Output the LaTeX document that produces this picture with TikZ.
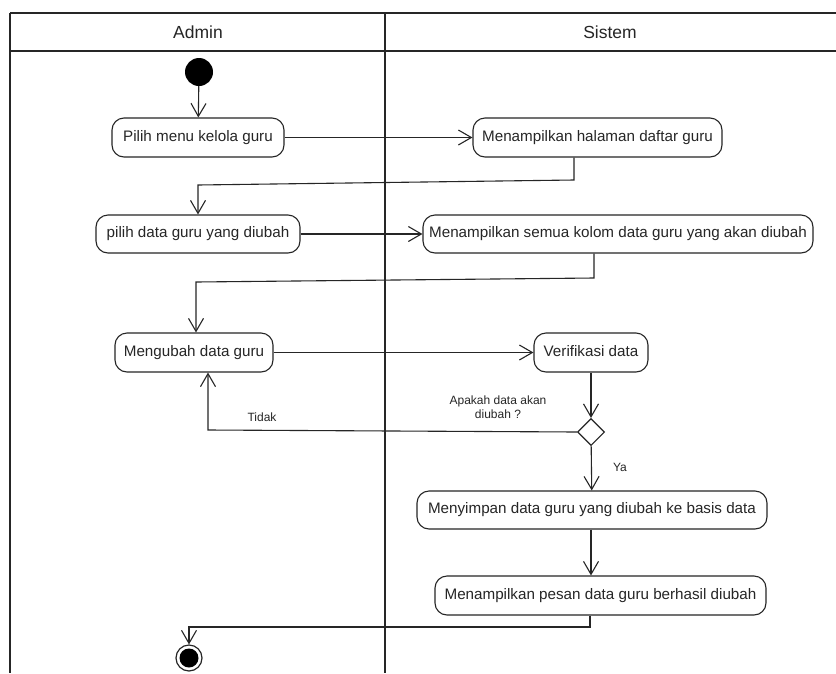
\documentclass[tikz,border=0pt]{standalone}
\usepackage{fontspec}
\setmainfont{Liberation Sans}
\usetikzlibrary{arrows.meta,shapes.geometric}
\definecolor{lncol}{HTML}{262626}
\tikzset{
  act/.style={draw=lncol, rounded corners=12pt, line width=1.1pt, minimum height=39pt,
    inner sep=0pt, font=\fontsize{15.2}{18}\selectfont, text height=11pt, text depth=3.5pt, text=black!85},
  flow/.style={draw=lncol, line width=1.1pt, -{Straight Barb[length=13pt,width=15pt,line width=1.1pt]}},
  lbl/.style={font=\fontsize{12}{14}\selectfont, text=black!85, inner sep=0pt, align=center},
  hdr/.style={font=\fontsize{17.5}{20}\selectfont, text=black!85, inner sep=0pt},
  startnode/.style={circle, fill=black, minimum size=28pt, inner sep=0pt},
  endnode/.style={circle, draw=lncol, line width=1.2pt, minimum size=26pt, inner sep=0pt},
  decision/.style={diamond, draw=lncol, line width=1.1pt, minimum width=27pt, minimum height=27pt, inner sep=0pt, aspect=1}
}
\begin{document}
\begin{tikzpicture}[x=1pt,y=-1pt]
\useasboundingbox (0,0) rectangle (836,673);
\fill[white] (0,0) rectangle (836,673);
% swimlane frame
\draw[draw=lncol, line width=2.2pt] (10,13) -- (836,13);
\draw[draw=lncol, line width=2.2pt] (10,51) -- (836,51);
\draw[draw=lncol, line width=1.4pt] (10,13) -- (10,673);
\draw[draw=lncol, line width=1.4pt] (385,13) -- (385,673);
\node[hdr] (hadmin) at (198,32) {Admin};
\node[hdr] (hsistem) at (610,32) {Sistem};

% nodes
\node[startnode] (start) at (199,72) {};
\node[act, minimum width=172pt] (n1) at (198,137.5) {Pilih menu kelola guru};
\node[act, minimum width=249pt] (n2) at (597.5,137.5) {Menampilkan halaman daftar guru};
\node[act, minimum width=204pt, minimum height=38pt] (n3) at (198,234) {pilih data guru yang diubah};
\node[act, minimum width=390pt, minimum height=38pt] (n4) at (618,234) {Menampilkan semua kolom data guru yang akan diubah};
\node[act, minimum width=158pt] (n5) at (194,352.5) {Mengubah data guru};
\node[act, minimum width=114pt] (n6) at (591,352.5) {Verifikasi data};
\node[decision] (d) at (591,432) {};
\node[act, minimum width=350pt, minimum height=38pt] (n7) at (592,510) {Menyimpan data guru yang diubah ke basis data};
\node[act, minimum width=331pt] (n8) at (600.5,595.5) {Menampilkan pesan data guru berhasil diubah};
\node[endnode] (end) at (189,658) {};
\fill[black] (end.center) circle (9.5pt);

% labels
\node[lbl] (q) at (498,407) {Apakah data akan\\diubah ?};
\node[lbl] (ltidak) at (262,417) {Tidak};
\node[lbl] (lya) at (620,467) {Ya};

% connectors
\coordinate (a1) at (574,180);
\coordinate (a2) at (198,185);
\coordinate (b1) at (594,278);
\coordinate (b2) at (196,282);
\coordinate (c1) at (208,430);
\coordinate (e1) at (590,627);
\coordinate (e2) at (189,627);

\draw[flow] (start) -- (n1);
\draw[flow] (n1) -- (n2);
\draw[flow] (n2.south -| a1) -- (a1) -- (a2) -- (n3.north -| a2);
\draw[flow] (n3) -- (n4);
\draw[flow] (n4.south -| b1) -- (b1) -- (b2) -- (n5.north -| b2);
\draw[flow] (n5) -- (n6);
\draw[flow] (n6) -- (d);
\draw[flow] (d.west) -- (c1) -- (n5.south -| c1);
\draw[flow] (d) -- (n7);
\draw[flow] (n7.south -| d) -- (n8.north -| d);
\draw[flow] (n8.south -| e1) -- (e1) -- (e2) -- (end);
\end{tikzpicture}
\end{document}
